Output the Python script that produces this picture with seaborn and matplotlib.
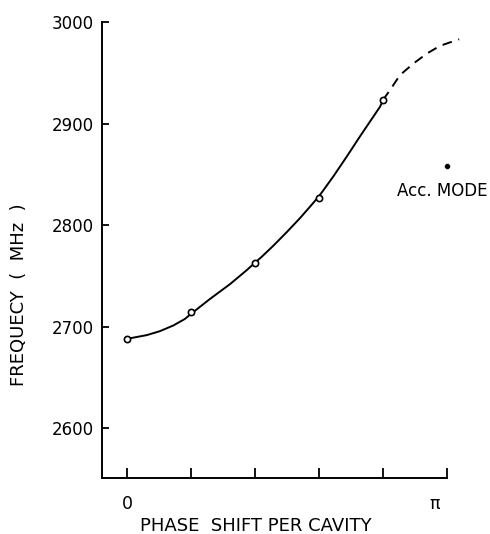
import numpy as np
import pandas as pd
import matplotlib
matplotlib.use("Agg")
import matplotlib.pyplot as plt
import matplotlib.transforms as mtransforms
import seaborn as sns

# measured points (phase in units of pi, frequency MHz)
meas_phase = [0.0, 0.2, 0.4, 0.6, 0.8]
meas_freq = [2688, 2714, 2763, 2827, 2923]

# solid curve
solid_phase = [0.0, 0.015, 0.062, 0.103, 0.145, 0.181, 0.2, 0.259, 0.322, 0.374,
               0.4, 0.421, 0.457, 0.499, 0.541, 0.577, 0.6, 0.613, 0.645, 0.687,
               0.728, 0.770, 0.791, 0.8]
solid_freq = [2688.0, 2688.9, 2691.7, 2695.6, 2701.2, 2707.6, 2712.6, 2727.2, 2741.9,
              2755.6, 2763.0, 2768.8, 2779.6, 2793.0, 2807.0, 2820.0, 2828.5, 2834.0,
              2848.0, 2867.6, 2887.3, 2906.9, 2916.7, 2923.2]

# dashed extrapolation
dash_phase = [0.8, 0.822, 0.853, 0.895, 0.937, 0.978, 1.020, 1.038]
dash_freq = [2923.2, 2933.0, 2947.7, 2959.1, 2968.9, 2976.5, 2981.1, 2983.0]

# accelerating mode
acc_phase = [1.0]
acc_freq = [2858]

yticks = [2600, 2700, 2800, 2900, 3000]
xticks = [0.0, 0.2, 0.4, 0.6, 0.8, 1.0]
xticklabels = ["0", "", "", "", "", "π"]

sns.set_style("ticks")
plt.rcParams['font.family'] = ['DejaVu Sans']
plt.rcParams.update({"text.color": "black", "axes.labelcolor": "black",
                     "xtick.color": "black", "ytick.color": "black",
                     "axes.edgecolor": "black"})

fig = plt.figure(figsize=(4.9, 5.34), dpi=100)
ax = fig.add_axes([102/490, 56/534, 345/490, 456/534])

pi = np.pi
solid = pd.DataFrame({"x": np.array(solid_phase) * pi, "y": solid_freq})
dash = pd.DataFrame({"x": np.array(dash_phase) * pi, "y": dash_freq})
meas = pd.DataFrame({"x": np.array(meas_phase) * pi, "y": meas_freq})
acc = pd.DataFrame({"x": np.array(acc_phase) * pi, "y": acc_freq})

sns.lineplot(data=solid, x="x", y="y", ax=ax, color="black", lw=1.4, sort=False)
ax.lines[-1].set_solid_capstyle("round")
ax.lines[-1].set_solid_joinstyle("round")
sns.lineplot(data=dash, x="x", y="y", ax=ax, color="black", lw=1.4, sort=False)
ax.lines[-1].set_dashes([5, 3.5])
ax.lines[-1].set_clip_on(False)
ax.plot(meas["x"], meas["y"], "o", mfc="white", mec="black", ms=4.5, mew=1.2, zorder=5)
sns.scatterplot(data=acc, x="x", y="y", ax=ax, color="black", s=18, zorder=5, clip_on=False)

ax.text(0.984 * pi, 2834, "Acc. MODE", ha="center", va="center", fontsize=12)

ax.set_xlim(-0.078 * pi, 1.0 * pi)
ax.set_ylim(2551, 3000)
ax.set_yticks(yticks)
ax.set_xticks(np.array(xticks) * pi)
ax.set_xticklabels(xticklabels)

sns.despine(ax=ax)
for s in ax.spines.values():
    s.set_linewidth(1.4)
ax.tick_params(axis="y", direction="in", length=5, width=1.3, pad=6, labelsize=12)
ax.tick_params(axis="x", direction="in", length=7, width=1.3, pad=12, labelsize=12.5)

# pi label sits slightly left of its tick in the reference
pi_lab = ax.get_xticklabels()[-1]
pi_lab.set_transform(pi_lab.get_transform() +
                     mtransforms.ScaledTranslation(-12/100, 0, fig.dpi_scale_trans))

ax.set_xlabel("PHASE  SHIFT PER CAVITY", fontsize=13)
ax.set_ylabel("FREQUECY  (  MHz  )", fontsize=13)
ax.xaxis.set_label_coords(0.446, -0.085)
ax.yaxis.set_label_coords(-0.214, 0.401)

fig.savefig("out.png", dpi=100)
